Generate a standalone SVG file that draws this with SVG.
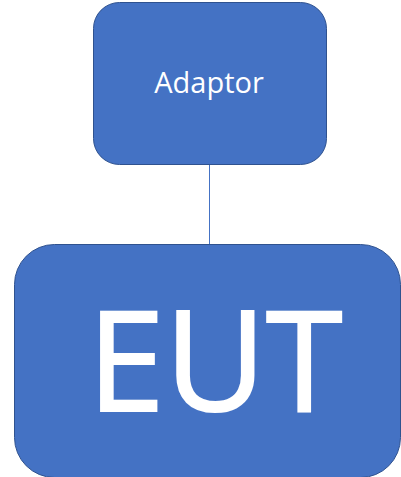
<svg xmlns="http://www.w3.org/2000/svg" width="401" height="477" viewBox="0 0 401 477">
<style>
.box{fill:#4472C4;stroke:#2F528F;stroke-width:1}
.lbl{fill:#FFFFFF;font-family:"Open Sans","Noto Sans",sans-serif;text-anchor:middle}
.conn{stroke:#4472C4;stroke-width:1;fill:none}
</style>
<g id="connectors">
<line class="conn" x1="209.5" y1="165" x2="209.5" y2="244"/>
</g>
<g id="adaptor">
<rect class="box" x="93.5" y="2.5" width="233" height="162" rx="26"/>
<text class="lbl" x="209" y="93" font-size="29">Adaptor</text>
</g>
<g id="eut">
<rect class="box" x="14.5" y="244.5" width="386" height="233" rx="40"/>
<text class="lbl" x="215" y="411" font-size="139" stroke="#FFFFFF" stroke-width="2">EUT</text>
</g>
</svg>
